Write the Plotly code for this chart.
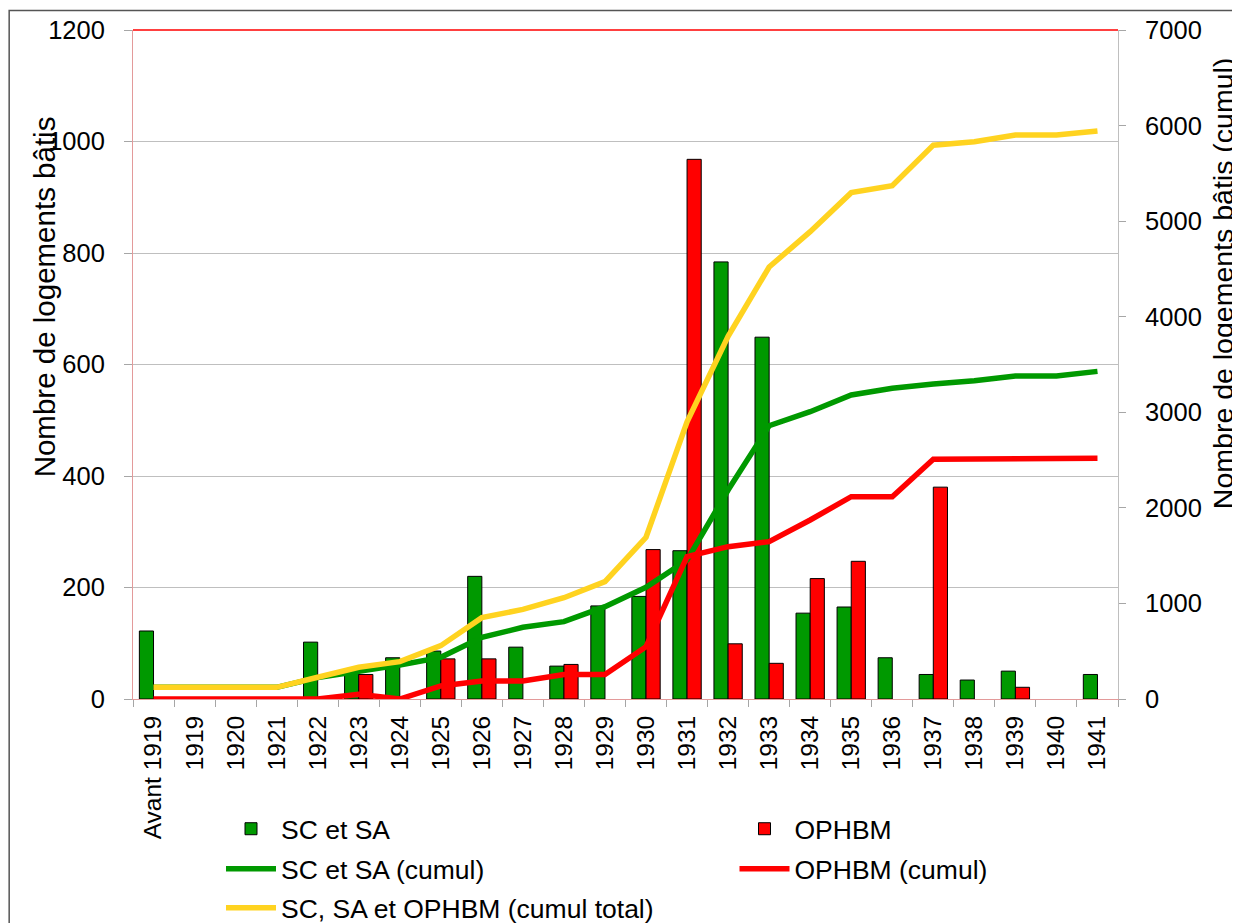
import plotly.graph_objects as go

categories = ["Avant 1919", "1919", "1920", "1921", "1922", "1923", "1924", "1925",
              "1926", "1927", "1928", "1929", "1930", "1931", "1932", "1933",
              "1934", "1935", "1936", "1937", "1938", "1939", "1940", "1941"]

sc_sa = [122, 0, 0, 0, 102, 48, 74, 86, 220, 93, 59, 167, 184, 266, 784, 649,
         154, 165, 74, 44, 34, 50, 0, 44]
ophbm = [0, 0, 0, 0, 0, 44, 0, 72, 72, 0, 62, 0, 268, 968, 99, 64,
         216, 247, 0, 380, 0, 21, 0, 0]

sc_sa_cumul = [122, 122, 122, 122, 224, 286, 356, 436, 645, 750, 809, 966, 1169, 1454,
               2187, 2860, 3006, 3181, 3251, 3295, 3330, 3380, 3380, 3428]
ophbm_cumul = [0, 0, 0, 0, 0, 50, 0, 136, 188, 188, 256, 256, 547, 1489, 1594, 1646,
               1873, 2117, 2117, 2508, 2508, 2518, 2518, 2518]
total_cumul = [122, 122, 122, 122, 228, 332, 391, 558, 851, 938, 1060, 1228, 1692, 2900,
               3795, 4520, 4890, 5298, 5370, 5795, 5830, 5901, 5901, 5943]

left_ticks = [0, 200, 400, 600, 800, 1000, 1200]
right_ticks = [0, 1000, 2000, 3000, 4000, 5000, 6000, 7000]

GREEN = "#009900"
RED = "#FF0000"
YELLOW = "#FFD320"
FONT = "Liberation Sans, Arial, sans-serif"

# the page body adds an 8px offset; work in screen coordinates and convert
OFF = 8
FW, FH = 1240 - OFF, 923 - OFF
L, R, T, B = 132.7 - OFF, 1118.3 - OFF, 30 - OFF, 699 - OFF
W, H = R - L, B - T


def px(X):
    return (X - OFF - L) / W


def py(Y):
    return (B - (Y - OFF)) / H


def lg(X, Y):
    return dict(orientation="h", xref="container", yref="container",
                x=(X - OFF) / FW, y=1 - (Y - OFF) / FH, xanchor="left", yanchor="middle",
                font=dict(family=FONT, size=26.5, color="black"), itemwidth=50,
                bgcolor="rgba(0,0,0,0)", borderwidth=0)


def hide_zero(values):
    # zero-height bars are not drawn (no outline stub on the baseline)
    return [v if v else None for v in values]


fig = go.Figure()
fig.add_trace(go.Bar(x=categories, y=hide_zero(sc_sa), name="SC et SA",
                     marker=dict(color=GREEN, line=dict(color="black", width=1)), legend="legend"))
fig.add_trace(go.Bar(x=categories, y=hide_zero(ophbm), name="OPHBM",
                     marker=dict(color=RED, line=dict(color="black", width=1)), legend="legend2"))
fig.add_trace(go.Scatter(x=categories, y=sc_sa_cumul, name="SC et SA (cumul)", mode="lines", yaxis="y2",
                         line=dict(color=GREEN, width=5.5), legend="legend3"))
fig.add_trace(go.Scatter(x=categories, y=ophbm_cumul, name="OPHBM (cumul)", mode="lines", yaxis="y2",
                         line=dict(color=RED, width=5.5), legend="legend4"))
fig.add_trace(go.Scatter(x=categories, y=total_cumul, name="SC, SA et OPHBM (cumul total)", mode="lines",
                         yaxis="y2", line=dict(color=YELLOW, width=5.5), legend="legend5"))

fig.update_layout(
    width=FW, height=FH,
    margin=dict(l=L, r=FW - R, t=T, b=FH - B, autoexpand=False),
    paper_bgcolor="white", plot_bgcolor="white",
    font=dict(family=FONT, size=25, color="black"),
    barmode="group", bargap=0.31, bargroupgap=0,
    showlegend=True,
    legend=lg(221, 829),
    legend2=lg(734.5, 829),
    legend3=lg(221, 869),
    legend4=lg(734.5, 869),
    legend5=lg(221, 908),
    xaxis=dict(type="category", tickangle=-90, tickson="boundaries", ticks="outside", ticklen=7,
               tickcolor="#A6A6A6", showline=True, linecolor="#E39A9A", linewidth=1,
               showgrid=False, tickfont=dict(size=24.5), ticklabelstandoff=6, automargin=False),
    yaxis=dict(range=[0, 1200], tickvals=left_ticks, ticks="outside", ticklen=8, tickcolor="#A6A6A6",
               showline=True, linecolor="#E39A9A", linewidth=1, showgrid=True, gridcolor="#BFBFBF",
               gridwidth=1, zeroline=False, tickfont=dict(size=25.5), ticklabelstandoff=14,
               automargin=False),
    yaxis2=dict(range=[0, 7000], tickvals=right_ticks, overlaying="y", side="right", ticks="outside",
                ticklen=7, tickcolor="#A6A6A6", showline=True, linecolor="#BFBFBF", linewidth=1,
                showgrid=False, zeroline=False, tickfont=dict(size=25.5), ticklabelstandoff=14,
                automargin=False),
    annotations=[
        dict(text="Nombre de logements bâtis", textangle=-90, xref="paper", yref="paper",
             x=px(44), y=py(297), xanchor="center", yanchor="middle", showarrow=False,
             font=dict(family=FONT, size=29.5, color="black")),
        dict(text="Nombre de logements bâtis (cumul)", textangle=-90, xref="paper", yref="paper",
             x=px(1223), y=py(283.5), xanchor="center", yanchor="middle", showarrow=False,
             font=dict(family=FONT, size=28.5, color="black")),
    ],
    shapes=[
        dict(type="line", xref="paper", yref="paper", x0=0, x1=1, y0=1, y1=1,
             line=dict(color=RED, width=1.5), layer="above"),
        dict(type="rect", xref="paper", yref="paper", x0=px(8.8), x1=px(1270), y0=py(10.5), y1=py(980),
             line=dict(color="#555555", width=1.5), layer="below"),
    ],
)

fig.write_html("out.html")
